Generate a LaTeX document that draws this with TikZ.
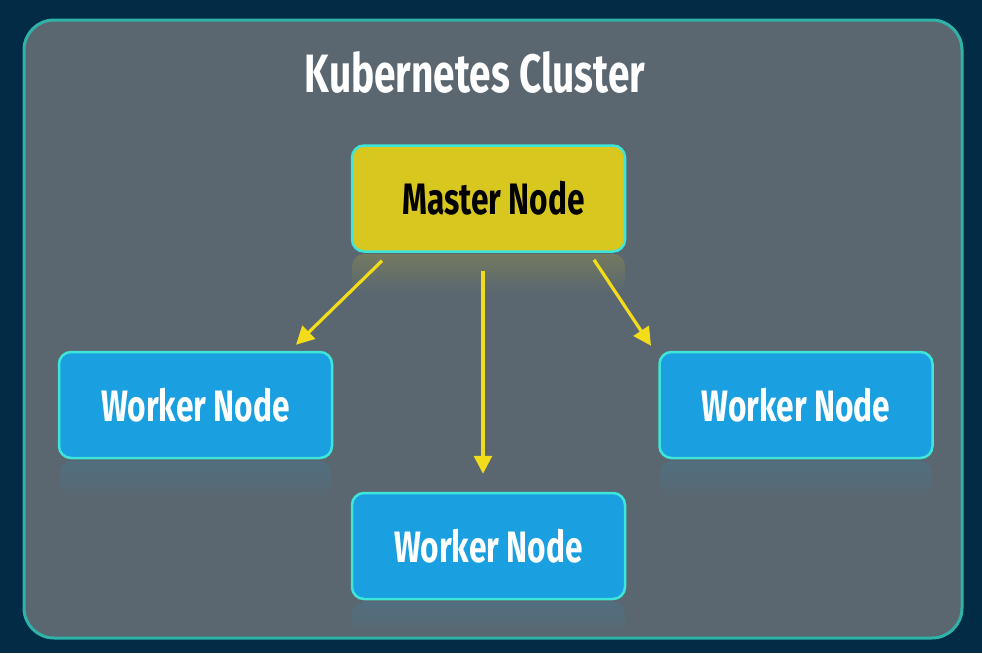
\documentclass[tikz,border=0pt]{standalone}
\usepackage{fontspec}
\setmainfont{Fira Sans}[FakeStretch=0.72]
\usetikzlibrary{arrows.meta}
\definecolor{bgnavy}{HTML}{022B45}
\definecolor{clfill}{HTML}{5A6770}
\definecolor{clborder}{HTML}{2FB3A8}
\definecolor{mfill}{HTML}{D8C71F}
\definecolor{boxborder}{HTML}{3EE6DA}
\definecolor{wfill}{HTML}{1A9FE0}
\definecolor{arrowyellow}{HTML}{F3DC1A}
\tikzset{
  nodebox/.style={draw=boxborder, line width=2.5pt, rounded corners=12pt,
    minimum width=273pt, minimum height=106pt, inner sep=0pt,
    font=\fontsize{44}{46}\selectfont\bfseries},
  masterbox/.style={nodebox, fill=mfill, text=black},
  workerbox/.style={nodebox, fill=wfill, text=white},
  flow/.style={draw=arrowyellow, line width=3.2pt,
    -{Triangle[length=18pt,width=18pt]}},
  refl/.style={rounded corners=12pt}
}
\begin{document}
\begin{tikzpicture}[x=1pt,y=-1pt]
\useasboundingbox (0,0) rectangle (982,653);
\fill[bgnavy] (0,0) rectangle (982,653);
% cluster
\draw[clborder, line width=3pt, fill=clfill, rounded corners=30pt] (24,20) rectangle (962,638);
\node[text=white, font=\fontsize{54}{56}\selectfont\bfseries] (title) at (475,72) {Kubernetes Cluster};
% reflections
\shade[refl, top color=mfill!20!clfill, bottom color=clfill] (352,254) rectangle (625,292);
\shade[refl, top color=wfill!14!clfill, bottom color=clfill] (60,461) rectangle (331,499);
\shade[refl, top color=wfill!14!clfill, bottom color=clfill] (660,461) rectangle (932,499);
\shade[refl, top color=wfill!14!clfill, bottom color=clfill] (352,602) rectangle (625,636);
% nodes
\node[masterbox] (m) at (488.5,198.5) {\hspace*{10pt}Master Node};
\node[workerbox] (wl) at (195.5,405) {Worker Node};
\node[workerbox] (wr) at (796,405) {Worker Node};
\node[workerbox] (wb) at (488.5,546) {Worker Node};
% connectors
\draw[flow] ([xshift=-106.5pt,yshift=-8pt]m.south) -- ([xshift=100.5pt,yshift=6pt]wl.north);
\draw[flow] ([xshift=-5.5pt,yshift=-18pt]m.south) -- ([xshift=-5.5pt,yshift=18pt]wb.north);
\draw[flow] ([xshift=105.5pt,yshift=-7pt]m.south) -- ([xshift=-145pt,yshift=5pt]wr.north);
\end{tikzpicture}
\end{document}
